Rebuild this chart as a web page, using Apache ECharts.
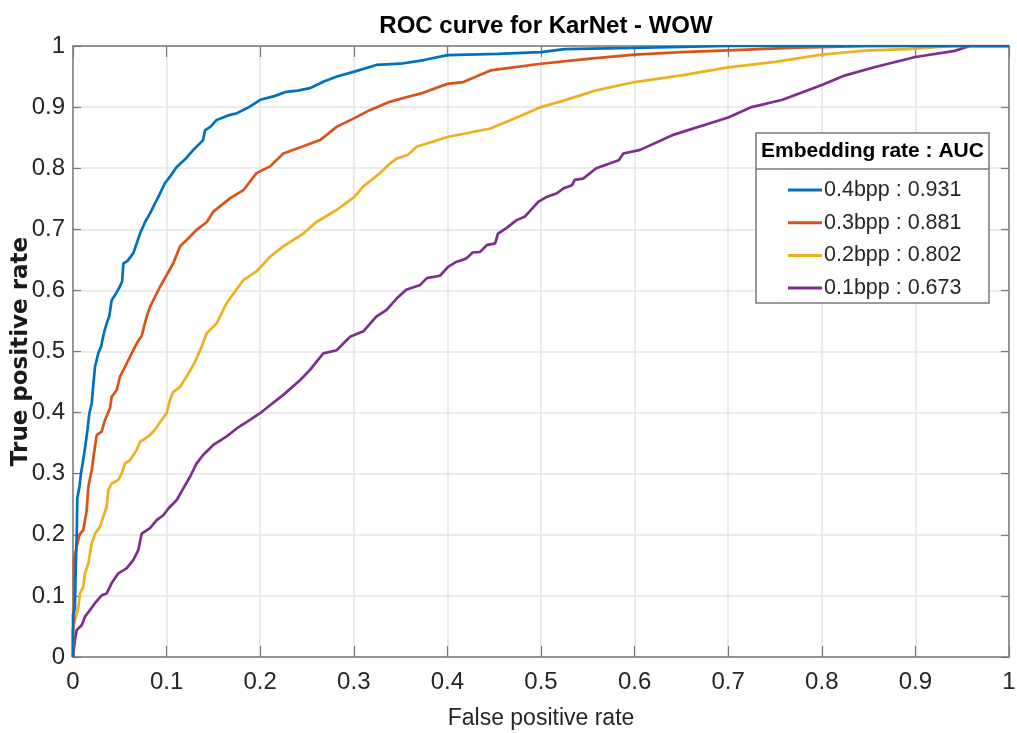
<!DOCTYPE html>
<html>
<head>
<meta charset="utf-8">
<title>ROC curve for KarNet - WOW</title>
<script src="https://cdn.jsdelivr.net/npm/echarts@6/dist/echarts.min.js"></script>
<style>
  html, body { margin: 0; padding: 0; background: #fff; }
  #chart { width: 1017px; height: 733px; }
</style>
</head>
<body>
<div id="chart"></div>
<script>
// ROC curves (false positive rate, true positive rate) per embedding rate
const roc04 = [[0,0],[0,0.07],[0.002,0.08],[0.003,0.15],[0.004,0.2],[0.0046,0.26],[0.007,0.28],[0.0085,0.30],[0.0103,0.317],[0.012,0.333],[0.014,0.355],[0.0155,0.372],[0.0175,0.399],[0.02,0.415],[0.0215,0.442],[0.0235,0.475],[0.027,0.497],[0.03,0.508],[0.033,0.53],[0.036,0.546],[0.0388,0.558],[0.0413,0.584],[0.046,0.595],[0.05,0.606],[0.0525,0.615],[0.0538,0.644],[0.058,0.648],[0.0645,0.661],[0.0716,0.693],[0.077,0.712],[0.0823,0.726],[0.0875,0.742],[0.0912,0.753],[0.098,0.775],[0.104,0.787],[0.1108,0.802],[0.12,0.815],[0.1286,0.830],[0.139,0.846],[0.141,0.862],[0.147,0.868],[0.1535,0.879],[0.165,0.886],[0.175,0.890],[0.188,0.9],[0.2001,0.912],[0.215,0.918],[0.228,0.925],[0.24,0.927],[0.253,0.931],[0.268,0.942],[0.282,0.95],[0.3006,0.958],[0.324,0.969],[0.35,0.971],[0.375,0.977],[0.4,0.985],[0.454,0.987],[0.5,0.99],[0.525,0.995],[0.6,0.997],[0.7,1.0],[1,1]];
const roc03 = [[0,0],[0,0.044],[0.001,0.06],[0.001,0.159],[0.0039,0.18],[0.0068,0.2],[0.011,0.208],[0.0146,0.24],[0.0164,0.279],[0.02,0.306],[0.0224,0.333],[0.0253,0.363],[0.0306,0.369],[0.0342,0.388],[0.0395,0.407],[0.0413,0.426],[0.0467,0.437],[0.0502,0.459],[0.0556,0.475],[0.0627,0.497],[0.068,0.513],[0.0734,0.526],[0.0787,0.557],[0.0823,0.573],[0.093,0.606],[0.1,0.625],[0.107,0.644],[0.1143,0.672],[0.123,0.685],[0.132,0.699],[0.143,0.712],[0.15,0.729],[0.168,0.751],[0.182,0.764],[0.196,0.792],[0.2105,0.803],[0.2247,0.824],[0.246,0.836],[0.264,0.846],[0.282,0.868],[0.3006,0.882],[0.317,0.895],[0.339,0.909],[0.358,0.917],[0.371,0.922],[0.4,0.938],[0.417,0.941],[0.446,0.96],[0.5,0.971],[0.55,0.979],[0.6,0.986],[0.65,0.99],[0.7,0.993],[0.767,0.997],[0.85,1.0],[1,1]];
const roc02 = [[0,0],[0,0.044],[0.0004,0.05],[0.0039,0.071],[0.0057,0.082],[0.0075,0.104],[0.011,0.115],[0.0128,0.137],[0.0164,0.153],[0.0182,0.17],[0.02,0.186],[0.0235,0.202],[0.0288,0.213],[0.0324,0.23],[0.036,0.246],[0.0377,0.273],[0.0413,0.284],[0.0484,0.29],[0.052,0.3],[0.0556,0.317],[0.0609,0.322],[0.068,0.339],[0.0716,0.352],[0.0805,0.361],[0.0876,0.372],[0.0947,0.388],[0.1,0.399],[0.1036,0.421],[0.1072,0.434],[0.1143,0.442],[0.1214,0.459],[0.1303,0.483],[0.1375,0.508],[0.1428,0.53],[0.1535,0.546],[0.164,0.579],[0.182,0.617],[0.196,0.631],[0.2105,0.655],[0.2247,0.672],[0.246,0.693],[0.26,0.712],[0.282,0.732],[0.3006,0.753],[0.31,0.77],[0.328,0.792],[0.339,0.808],[0.346,0.816],[0.358,0.822],[0.367,0.835],[0.4,0.851],[0.446,0.865],[0.471,0.881],[0.5,0.9],[0.525,0.911],[0.558,0.927],[0.6,0.941],[0.65,0.952],[0.7,0.965],[0.75,0.974],[0.8,0.986],[0.85,0.993],[0.892,0.995],[0.942,1.0],[1,1]];
const roc01 = [[0,0],[0.0021,0.028],[0.0039,0.044],[0.0093,0.052],[0.0128,0.066],[0.0182,0.077],[0.0235,0.088],[0.0306,0.101],[0.036,0.104],[0.0413,0.121],[0.0484,0.137],[0.0573,0.145],[0.0645,0.159],[0.0698,0.175],[0.0734,0.202],[0.0823,0.211],[0.0894,0.224],[0.0965,0.232],[0.1019,0.243],[0.1108,0.257],[0.1179,0.276],[0.125,0.295],[0.1321,0.317],[0.1392,0.331],[0.1499,0.347],[0.1642,0.361],[0.1749,0.374],[0.1891,0.388],[0.1998,0.399],[0.2105,0.412],[0.2247,0.429],[0.2425,0.453],[0.2532,0.47],[0.2674,0.497],[0.2817,0.502],[0.2959,0.524],[0.3102,0.533],[0.324,0.557],[0.335,0.568],[0.346,0.587],[0.356,0.601],[0.371,0.609],[0.378,0.62],[0.392,0.624],[0.401,0.639],[0.41,0.647],[0.42,0.652],[0.427,0.662],[0.435,0.663],[0.442,0.674],[0.451,0.677],[0.454,0.693],[0.463,0.702],[0.474,0.715],[0.483,0.721],[0.497,0.745],[0.506,0.753],[0.517,0.759],[0.524,0.767],[0.533,0.772],[0.536,0.781],[0.545,0.783],[0.559,0.8],[0.574,0.808],[0.583,0.813],[0.588,0.824],[0.606,0.83],[0.642,0.855],[0.7,0.883],[0.725,0.9],[0.758,0.912],[0.8,0.936],[0.825,0.952],[0.858,0.966],[0.9,0.982],[0.942,0.992],[0.958,1.0],[1,1]];

const seriesNames = ['0.4bpp : 0.931', '0.3bpp : 0.881', '0.2bpp : 0.802', '0.1bpp : 0.673'];
const seriesColors = ['#0072BD', '#D95319', '#EDB120', '#7E2F8E'];
const seriesData = [roc04, roc03, roc02, roc01];

const xTickLabels = ['0', '0.1', '0.2', '0.3', '0.4', '0.5', '0.6', '0.7', '0.8', '0.9', '1'];
const yTickLabels = ['0', '0.1', '0.2', '0.3', '0.4', '0.5', '0.6', '0.7', '0.8', '0.9', '1'];

const titleText = 'ROC curve for KarNet - WOW';
const legendTitle = 'Embedding rate : AUC';
const xName = 'False positive rate';
const yName = 'True positive rate';

const FONT = '"Liberation Sans", Arial, Helvetica, sans-serif';
const AXIS_GRAY = '#7a7a7a';
const TEXT_DARK = '#262626';
const GRID_GRAY = '#e4e4e4';

const chart = echarts.init(document.getElementById('chart'), null, { renderer: 'canvas' });

function tickIndex(v) { return Math.round(v * 10); }

const frameAxis = {
  type: 'value', min: 0, max: 1, interval: 0.1,
  axisLine: { show: true, onZero: false, lineStyle: { color: AXIS_GRAY, width: 1.5 } },
  axisLabel: { show: false },
  splitLine: { show: false }
};

const option = {
  backgroundColor: '#ffffff',
  animation: false,
  title: {
    text: titleText,
    left: 541, top: 9, textAlign: 'center',
    textStyle: { fontFamily: FONT, fontWeight: 'bold', fontSize: 24, color: '#000' }
  },
  grid: {
    left: 73, right: 8, top: 46, bottom: 76,
    containLabel: false, outerBoundsMode: 'none'
  },
  legend: {
    orient: 'vertical',
    left: 783, top: 174,
    itemWidth: 34, itemHeight: 3, itemGap: 10.7,
    icon: 'rect',
    data: seriesNames,
    textStyle: { fontFamily: FONT, fontSize: 21.5, color: TEXT_DARK, lineHeight: 22, padding: [0, 0, 0, -3] },
    selectedMode: false,
    z: 6
  },
  graphic: [
    {
      type: 'rect', z: 5,
      shape: { x: 756, y: 133, width: 233, height: 170 },
      style: { fill: '#ffffff', stroke: '#7a7a7a', lineWidth: 1.5 }
    },
    {
      type: 'line', z: 5,
      shape: { x1: 756, y1: 169, x2: 989, y2: 169 },
      style: { stroke: '#7a7a7a', lineWidth: 1.5 }
    },
    {
      type: 'text', z: 6,
      x: 872.5, y: 151,
      style: {
        text: legendTitle, fill: '#000',
        font: 'bold 21px ' + FONT,
        textAlign: 'center', textVerticalAlign: 'middle'
      }
    }
  ],
  xAxis: [
    {
      type: 'value', min: 0, max: 1, interval: 0.1,
      position: 'bottom',
      name: xName, nameLocation: 'middle', nameGap: 50, nameMoveOverlap: false,
      nameTextStyle: { fontFamily: FONT, fontSize: 23, color: TEXT_DARK },
      axisLine: { show: true, onZero: false, lineStyle: { color: AXIS_GRAY, width: 1.5 } },
      axisTick: { show: true, inside: true, length: 11, lineStyle: { color: AXIS_GRAY, width: 1.2 } },
      axisLabel: {
        margin: 13, fontFamily: FONT, fontSize: 24, color: TEXT_DARK,
        formatter: v => xTickLabels[tickIndex(v)]
      },
      splitLine: { show: true, lineStyle: { color: GRID_GRAY, width: 1.5 } }
    },
    Object.assign({}, frameAxis, {
      position: 'top',
      axisTick: { show: true, inside: true, length: 11, lineStyle: { color: AXIS_GRAY, width: 1.2 } }
    })
  ],
  yAxis: [
    {
      type: 'value', min: 0, max: 1, interval: 0.1,
      position: 'left',
      name: yName, nameLocation: 'middle', nameGap: 40, nameRotate: 90, nameMoveOverlap: false,
      nameTextStyle: { fontFamily: '"DejaVu Sans", Verdana, sans-serif', fontWeight: 'bold', fontSize: 23, color: '#1a1a1a' },
      axisLine: { show: true, onZero: false, lineStyle: { color: AXIS_GRAY, width: 1.5 } },
      axisTick: { show: true, inside: true, length: 8, lineStyle: { color: AXIS_GRAY, width: 1.2 } },
      axisLabel: {
        margin: 8, fontFamily: FONT, fontSize: 24, color: TEXT_DARK,
        formatter: v => yTickLabels[tickIndex(v)]
      },
      splitLine: { show: true, lineStyle: { color: GRID_GRAY, width: 1.5 } }
    },
    Object.assign({}, frameAxis, {
      position: 'right',
      axisTick: { show: true, inside: true, length: 8, lineStyle: { color: AXIS_GRAY, width: 1.2 } }
    })
  ],
  series: seriesData.map((d, i) => ({
    name: seriesNames[i],
    type: 'line',
    xAxisIndex: 0, yAxisIndex: 0,
    data: d,
    symbol: 'none',
    showSymbol: false,
    smooth: false,
    clip: true,
    z: 2 + (seriesData.length - i) * 0.01,
    color: seriesColors[i],
    lineStyle: { color: seriesColors[i], width: 2.7 },
    emphasis: { disabled: true }
  }))
};

chart.setOption(option);
</script>
</body>
</html>
